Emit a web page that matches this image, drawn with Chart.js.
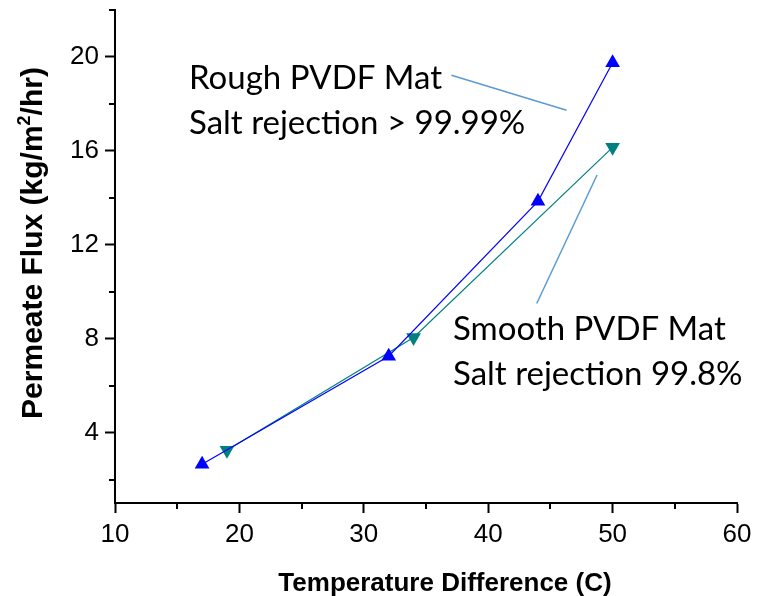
<!DOCTYPE html>
<html>
<head>
<meta charset="utf-8">
<script src="https://cdn.jsdelivr.net/npm/chart.js@4.4.1/dist/chart.umd.min.js"></script>
<style>
  html, body { margin: 0; padding: 0; background: #fff; }
  #wrap { width: 761px; height: 596px; }
</style>
</head>
<body>
<div id="wrap"><canvas id="fluxChart" width="761" height="596"></canvas></div>
<script>
// data
const roughTemp = [17, 32, 44, 50];
const roughFlux = [2.65, 7.25, 13.85, 19.75];
const smoothTemp = [19, 34, 50];
const smoothFlux = [3.25, 8.05, 16.15];

const xTicks = [10, 20, 30, 40, 50, 60];
const xMinorTicks = [15, 25, 35, 45, 55];
const yTicks = [4, 8, 12, 16, 20];
const yMinorTicks = [2, 6, 10, 14, 18, 22];

const annoFont = '33px Lato, "Open Sans", sans-serif';
const axisFont = '"Liberation Sans", Arial, sans-serif';

// leader lines for the two text boxes, in data units
const leaderLines = [
    { from: [37.05, 19.22], to: [46.3, 17.73] },
    { from: [48.75, 14.97], to: [43.9, 9.5] }
];

function toPoints(xs, ys) {
    return xs.map(function (x, i) { return { x: x, y: ys[i] }; });
}

// draws minor ticks, axis titles, notes and leader lines
const extrasPlugin = {
    id: 'extras',
    afterDraw: function (chart) {
        const ctx = chart.ctx;
        const xs = chart.scales.x;
        const ys = chart.scales.y;
        const area = chart.chartArea;
        ctx.save();

        // minor ticks
        ctx.strokeStyle = '#000';
        ctx.lineWidth = 2;
        ctx.beginPath();
        xMinorTicks.forEach(function (v) {
            const px = Math.round(xs.getPixelForValue(v));
            ctx.moveTo(px, area.bottom);
            ctx.lineTo(px, area.bottom + 6);
        });
        yMinorTicks.forEach(function (v) {
            const py = Math.round(ys.getPixelForValue(v));
            ctx.moveTo(area.left, py);
            ctx.lineTo(area.left - 6, py);
        });
        ctx.stroke();

        // leader lines
        ctx.strokeStyle = '#5b9bd5';
        ctx.lineWidth = 1.5;
        leaderLines.forEach(function (l) {
            ctx.beginPath();
            ctx.moveTo(xs.getPixelForValue(l.from[0]), ys.getPixelForValue(l.from[1]));
            ctx.lineTo(xs.getPixelForValue(l.to[0]), ys.getPixelForValue(l.to[1]));
            ctx.stroke();
        });

        // notes
        ctx.fillStyle = '#000';
        ctx.font = annoFont;
        ctx.textAlign = 'left';
        ctx.textBaseline = 'alphabetic';
        ctx.fillText('Rough PVDF Mat', 189, 89);
        ctx.fillText('Salt rejection > 99.99%', 189, 134);
        ctx.fillText('Smooth PVDF Mat', 453, 340);
        ctx.fillText('Salt rejection 99.8%', 453, 385);

        // x title
        ctx.font = 'bold 26px ' + axisFont;
        ctx.textAlign = 'center';
        ctx.fillText('Temperature Difference (C)', 445, 591);

        // y title with superscript
        ctx.translate(42, 243);
        ctx.rotate(-Math.PI / 2);
        const mainFont = 'bold 30px ' + axisFont;
        const supFont = 'bold 18px ' + axisFont;
        const a = 'Permeate Flux (kg/m', s = '2', b = '/hr)';
        ctx.font = mainFont;
        const wa = ctx.measureText(a).width, wb = ctx.measureText(b).width;
        ctx.font = supFont;
        const ws = ctx.measureText(s).width;
        let x0 = -(wa + ws + wb) / 2;
        ctx.textAlign = 'left';
        ctx.font = mainFont;
        ctx.fillText(a, x0, 0);
        ctx.font = supFont;
        ctx.fillText(s, x0 + wa, -12);
        ctx.font = mainFont;
        ctx.fillText(b, x0 + wa + ws, 0);
        ctx.restore();
    }
};

const ctx = document.getElementById('fluxChart').getContext('2d');
const fluxChart = new Chart(ctx, {
    type: 'scatter',
    data: {
        datasets: [{
            label: 'Rough PVDF Mat',
            data: toPoints(roughTemp, roughFlux),
            showLine: true,
            borderColor: '#0000ff',
            backgroundColor: '#0000ff',
            borderWidth: 1.2,
            pointStyle: 'triangle',
            pointRadius: 8.5,
            pointHoverRadius: 8.5,
            pointBorderWidth: 0
        }, {
            label: 'Smooth PVDF Mat',
            data: toPoints(smoothTemp, smoothFlux),
            showLine: true,
            borderColor: '#008080',
            backgroundColor: '#008080',
            borderWidth: 1.2,
            pointStyle: 'triangle',
            pointRotation: 180,
            pointRadius: 8.5,
            pointHoverRadius: 8.5,
            pointBorderWidth: 0
        }]
    },
    options: {
        responsive: false,
        animation: false,
        layout: { padding: { top: 10, right: 24, left: 0, bottom: 0 } },
        plugins: {
            legend: { display: false },
            tooltip: { enabled: false }
        },
        scales: {
            x: {
                type: 'linear',
                min: 10,
                max: 60,
                afterBuildTicks: function (scale) {
                    scale.ticks = xTicks.map(function (v) { return { value: v }; });
                },
                afterFit: function (scale) {
                    scale.height = 93;
                    scale.paddingLeft = 0;
                    scale.paddingRight = 0;
                },
                grid: { drawOnChartArea: false, tickLength: 10, tickWidth: 2, tickColor: '#000' },
                border: { display: true, color: '#000', width: 2 },
                ticks: { color: '#000', padding: 6, maxRotation: 0, font: { family: axisFont, size: 26 } }
            },
            y: {
                type: 'linear',
                min: 1,
                max: 22,
                afterBuildTicks: function (scale) {
                    scale.ticks = yTicks.map(function (v) { return { value: v }; });
                },
                afterFit: function (scale) {
                    scale.width = 115;
                    scale.paddingTop = 0;
                    scale.paddingBottom = 0;
                },
                grid: { drawOnChartArea: false, tickLength: 10, tickWidth: 2, tickColor: '#000' },
                border: { display: true, color: '#000', width: 2 },
                ticks: { color: '#000', padding: 6, font: { family: axisFont, size: 26 } }
            }
        }
    },
    plugins: [extrasPlugin]
});
</script>
</body>
</html>
